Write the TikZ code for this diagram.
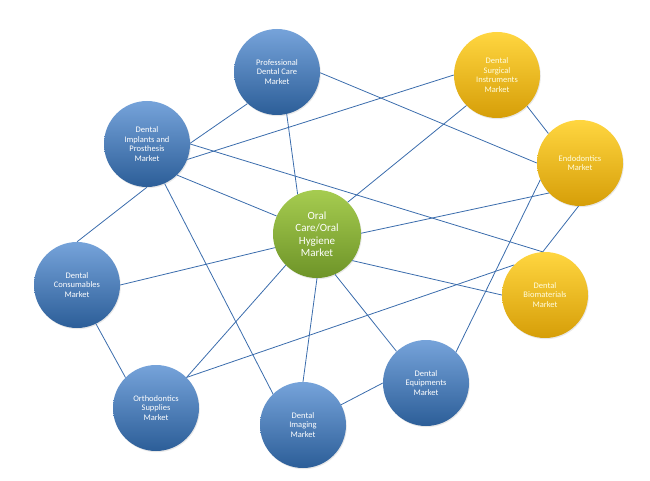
\documentclass[tikz,border=0pt]{standalone}
\usepackage{fontspec}
\setmainfont{Carlito}
\usetikzlibrary{shadows}
\definecolor{blueA}{RGB}{118,163,218}
\definecolor{blueB}{RGB}{72,132,200}
\definecolor{blueC}{RGB}{44,94,152}
\definecolor{goldA}{RGB}{255,214,64}
\definecolor{goldB}{RGB}{250,192,22}
\definecolor{goldC}{RGB}{214,158,8}
\definecolor{greenA}{RGB}{166,204,80}
\definecolor{greenB}{RGB}{140,180,56}
\definecolor{greenC}{RGB}{110,148,40}
\definecolor{linkblue}{RGB}{58,108,172}
\begin{document}
\begin{tikzpicture}[x=1pt, y=-1pt,
        market/.style={circle, minimum size=86pt, inner sep=0pt, align=center, text=white, font=\fontsize{8.5}{9.8}\selectfont, drop shadow={opacity=0.18, shadow xshift=0.8pt, shadow yshift=-1.2pt}},
        bluemarket/.style={market, top color=blueA, middle color=blueB, bottom color=blueC},
        goldmarket/.style={market, top color=goldA, middle color=goldB, bottom color=goldC, text=yellow!12!white},
        centremarket/.style={market, minimum size=88pt, top color=greenA, middle color=greenB, bottom color=greenC, font=\fontsize{11}{12.5}\selectfont},
        link/.style={draw=linkblue, line width=0.8pt}]
    \useasboundingbox (0, 0) rectangle (650, 481);
    \node[bluemarket] (pdc) at (277, 72) {Professional\\Dental Care\\Market};
    \node[bluemarket] (di) at (147, 144) {Dental\\Implants and\\Prosthesis\\Market};
    \node[goldmarket] (dsi) at (497, 75) {Dental\\Surgical\\Instruments\\Market};
    \node[goldmarket] (en) at (580, 163) {Endodontics\\Market};
    \node[centremarket] (oc) at (317, 234) {Oral\\Care/Oral\\Hygiene\\Market};
    \node[bluemarket] (dc) at (77, 285) {Dental\\Consumables\\Market};
    \node[goldmarket] (bm) at (545, 295) {Dental\\Biomaterials\\Market};
    \node[bluemarket] (os) at (156, 408) {Orthodontics\\Supplies\\Market};
    \node[bluemarket] (im) at (303, 425) {Dental\\Imaging\\Market};
    \node[bluemarket] (eq) at (426, 383) {Dental\\Equipments\\Market};
    \draw[link] (pdc.227) -- (di.1);
    \draw[link] (pdc.283) -- (oc.116);
    \draw[link] (pdc.359) -- (en.180);
    \draw[link] (di.339) -- (dsi.180);
    \draw[link] (di.0) -- (bm.93);
    \draw[link] (di.314) -- (oc.156);
    \draw[link] (di.270) -- (dc.90);
    \draw[link] (di.294) -- (im.134);
    \draw[link] (oc.46) -- (dsi.225);
    \draw[link] (oc.1) -- (en.224);
    \draw[link] (oc.323) -- (bm.180);
    \draw[link] (oc.294) -- (eq.133);
    \draw[link] (oc.270) -- (im.90);
    \draw[link] (oc.225) -- (os.45);
    \draw[link] (oc.198) -- (dc.0);
    \draw[link] (dc.296) -- (os.135);
    \draw[link] (os.45) -- (bm.136);
    \draw[link] (en.268) -- (bm.93);
    \draw[link] (eq.46) -- (en.203);
    \draw[link] (eq.180) -- (im.28);
    \draw[link] (dsi.314) -- (en.137);
\end{tikzpicture}
\end{document}
